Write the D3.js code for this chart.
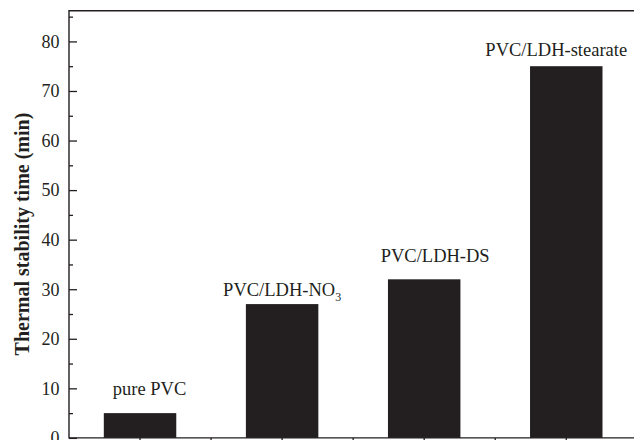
<!DOCTYPE html>
<html>
<head>
<meta charset="utf-8">
<script src="https://cdn.jsdelivr.net/npm/d3@7"></script>
<style>
  html, body { margin: 0; padding: 0; background: #fff; }
  svg { display: block; }
  svg text { font-family: "Liberation Serif", "DejaVu Serif", serif; }
</style>
</head>
<body>
<svg id="chart" width="634" height="440"></svg>
<script>
// Thermal stability time of PVC composites
const categories = ["pure PVC", "PVC/LDH-NO3", "PVC/LDH-DS", "PVC/LDH-stearate"];
const stabilityTime = [5, 27, 32, 75];
const yTickValues = [0, 10, 20, 30, 40, 50, 60, 70, 80];
const yMinorTickValues = [5, 15, 25, 35, 45, 55, 65, 75, 85];

const svg = d3.select("#chart");
const ink = "#231f20";

// plot frame (right side runs past the window edge)
const plotLeft = 69, plotTop = 10.7, plotRight = 637.3, plotBottom = 437.9;

const x = d3.scaleBand()
  .domain(categories)
  .range([plotLeft, plotRight])
  .paddingInner(0.49)
  .paddingOuter(0.245);

const y = d3.scaleLinear()
  .domain([0, 86.2])
  .range([plotBottom, plotTop]);

// bars
svg.append("g")
  .selectAll("rect")
  .data(categories)
  .join("rect")
  .attr("x", d => x(d))
  .attr("y", (d, i) => y(stabilityTime[i]))
  .attr("width", x.bandwidth())
  .attr("height", (d, i) => y(0) - y(stabilityTime[i]))
  .attr("fill", ink);

// left axis: major ticks with labels, minor ticks, all pointing inward
const yAxis = svg.append("g")
  .attr("transform", `translate(${plotLeft},0)`)
  .call(d3.axisRight(y).tickValues(yTickValues).tickSize(8).tickFormat(""));
yAxis.select(".domain").remove();
yAxis.selectAll("line").attr("stroke", ink).attr("stroke-width", 1.3);

const yMinor = svg.append("g")
  .attr("transform", `translate(${plotLeft},0)`)
  .call(d3.axisRight(y).tickValues(yMinorTickValues).tickSize(4).tickFormat(""));
yMinor.select(".domain").remove();
yMinor.selectAll("line").attr("stroke", ink).attr("stroke-width", 1.3);

svg.append("g")
  .selectAll("text")
  .data(yTickValues)
  .join("text")
  .attr("x", plotLeft - 9.5)
  .attr("y", d => y(d))
  .attr("dy", "0.35em")
  .attr("text-anchor", "end")
  .attr("font-size", 18)
  .attr("fill", ink)
  .text(d => d);

// bottom axis ticks at category centres and between them
const xTickPos = [];
categories.forEach(c => {
  const cx = x(c) + x.bandwidth() / 2;
  xTickPos.push(cx);
  xTickPos.push(cx + x.step() / 2);
});
svg.append("g")
  .selectAll("line")
  .data(xTickPos)
  .join("line")
  .attr("x1", d => d).attr("x2", d => d)
  .attr("y1", plotBottom).attr("y2", plotBottom + 6)
  .attr("stroke", ink).attr("stroke-width", 1.3);

// frame
svg.append("path")
  .attr("d", `M${plotRight},${plotTop}H${plotLeft}V${plotBottom}H${plotRight}`)
  .attr("fill", "none")
  .attr("stroke", ink)
  .attr("stroke-width", 1.4);

// bar labels, nudged individually as in the published figure
const labelNudge = [
  { dx: 9.5, dy: 18 },
  { dx: 0, dy: 8 },
  { dx: 11, dy: 17 },
  { dx: -10, dy: 10.7 }
];
const labels = svg.append("g")
  .attr("font-size", 18.5)
  .attr("fill", ink)
  .attr("text-anchor", "middle");

categories.forEach((c, i) => {
  const t = labels.append("text")
    .attr("x", x(c) + x.bandwidth() / 2 + labelNudge[i].dx)
    .attr("y", y(stabilityTime[i]) - labelNudge[i].dy);
  const m = c.match(/^(.*NO)(\d)$/);
  if (m) {
    t.append("tspan").text(m[1]);
    t.append("tspan").attr("font-size", 12).attr("dy", 5).text(m[2]);
  } else {
    t.text(c);
  }
});

// y axis title
svg.append("text")
  .attr("transform", `translate(28.5,234) rotate(-90)`)
  .attr("text-anchor", "middle")
  .attr("font-weight", "bold")
  .attr("font-size", 20)
  .attr("fill", ink)
  .text("Thermal stability time (min)");
</script>
</body>
</html>
